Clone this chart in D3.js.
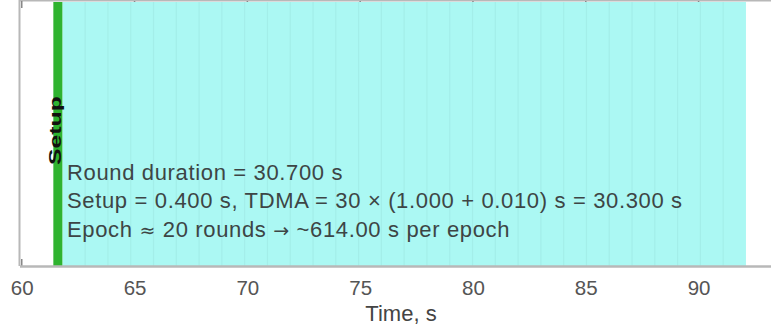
<!DOCTYPE html>
<html>
<head>
<meta charset="utf-8">
<script src="https://cdn.jsdelivr.net/npm/d3@7"></script>
<style>
  html, body { margin: 0; padding: 0; background: #fff; overflow: hidden; }
  svg { display: block; font-family: "Liberation Sans", Arial, sans-serif; }
</style>
</head>
<body>
<svg id="chart" width="771" height="332"></svg>
<script>
// TDMA round schedule
const roundStart = 61.4;        // s
const setupDuration = 0.4;      // s
const slotCount = 30;
const slotDuration = 1.0;       // s
const guardDuration = 0.01;     // s
const roundsPerEpoch = 20;
const xDomain = [59.9, 93.6];
const xTicks = [60, 65, 70, 75, 80, 85, 90];

const tdmaDuration = slotCount * (slotDuration + guardDuration);
const roundDuration = setupDuration + tdmaDuration;
const tdmaStart = roundStart + setupDuration;
const slotEdges = d3.range(1, slotCount).map(k => tdmaStart + k * (slotDuration + guardDuration));

const svg = d3.select("#chart");
const plotTop = 1, plotBottom = 266;
const x = d3.scaleLinear().domain(xDomain).range([19.5, 779.8]);

// frame
svg.append("line").attr("x1", 19.5).attr("x2", 771).attr("y1", 0.5).attr("y2", 0.5)
  .attr("stroke", "#b8b8b8").attr("stroke-width", 2);
svg.append("line").attr("x1", 19.5).attr("x2", 19.5).attr("y1", 0).attr("y2", plotBottom)
  .attr("stroke", "#b8b8b8").attr("stroke-width", 2);

// inward tick marks (top and bottom)
const tk = svg.append("g");
xTicks.forEach(t => {
  tk.append("line").attr("x1", x(t)).attr("x2", x(t)).attr("y1", plotBottom).attr("y2", plotBottom - 7)
    .attr("stroke", "#888").attr("stroke-width", 1.5);
  tk.append("line").attr("x1", x(t)).attr("x2", x(t)).attr("y1", plotTop).attr("y2", plotTop + 7)
    .attr("stroke", "#888").attr("stroke-width", 1.5);
});

// TDMA block
svg.append("rect")
  .attr("x", x(tdmaStart)).attr("y", plotTop + 1)
  .attr("width", x(tdmaStart + tdmaDuration) - x(tdmaStart))
  .attr("height", plotBottom - plotTop - 1)
  .attr("fill", "#abf8f3");

// slot boundaries
svg.append("g").selectAll("line").data(slotEdges).join("line")
  .attr("x1", d => x(d)).attr("x2", d => x(d))
  .attr("y1", plotTop + 1).attr("y2", plotBottom)
  .attr("stroke", "#a3eee9").attr("stroke-width", 1.2);

// setup block
svg.append("rect")
  .attr("x", x(roundStart)).attr("y", plotTop + 1)
  .attr("width", x(tdmaStart) - x(roundStart))
  .attr("height", plotBottom - plotTop - 1)
  .attr("fill", "#2fb32f");

// setup label
svg.append("text")
  .attr("transform", `translate(60.5,165) rotate(-90) scale(1.55,1)`)
  .attr("font-size", 16).attr("font-weight", "bold").attr("fill", "#111")
  .text("Setup");

// bottom axis
const axis = d3.axisBottom(x).tickValues(xTicks).tickSize(0).tickFormat(d3.format("d"));
const ag = svg.append("g").attr("transform", `translate(0,${plotBottom})`).call(axis);
ag.select(".domain").attr("stroke", "#b8b8b8").attr("stroke-width", 2.5);
ag.selectAll("text").attr("y", 29).attr("dy", null)
  .attr("font-size", 20.5).attr("fill", "#555")
  .attr("font-family", "Liberation Sans, Arial, sans-serif");

svg.append("text").attr("x", 401).attr("y", 321).attr("text-anchor", "middle")
  .attr("font-size", 22).attr("fill", "#444").text("Time, s");

// annotation (each line is a list of [text, font] runs)
const f3 = d3.format(".3f");
const lines = [
  [[`Round duration = ${f3(roundDuration)} s`, null]],
  [[`Setup = ${f3(setupDuration)} s, TDMA = ${slotCount} \u00d7 (${f3(slotDuration)} + ${f3(guardDuration)}) s = ${f3(tdmaDuration)} s`, null]],
  [[`Epoch `, null], ["\u2248", "DejaVu Sans"], [` ${roundsPerEpoch} rounds `, null], ["\u2192", "DejaVu Sans"],
   [` ~${d3.format(".2f")(roundsPerEpoch * roundDuration)} s per epoch`, null]]
];
const ann = svg.append("g").selectAll("text").data(lines).join("text")
  .attr("x", 67).attr("y", (d, i) => 180 + i * 28.3)
  .attr("font-size", 22).attr("letter-spacing", 0.65).attr("fill", "#3d4545")
  .attr("xml:space", "preserve").style("white-space", "pre");
ann.selectAll("tspan").data(d => d).join("tspan")
  .attr("font-family", d => d[1])
  .attr("font-size", d => d[1] ? 19 : null)
  .text(d => d[0]);
</script>
</body>
</html>
